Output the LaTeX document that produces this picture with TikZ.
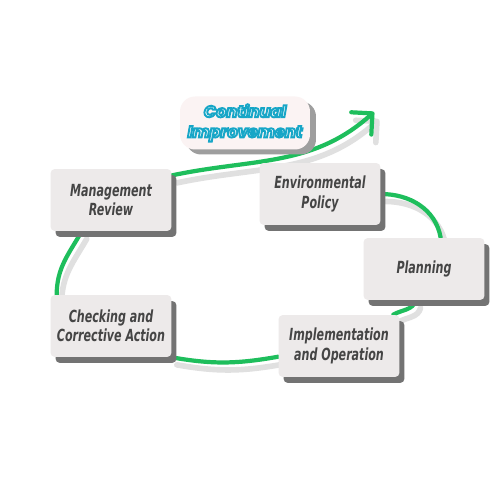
\documentclass[tikz,border=0pt]{standalone}
\usepackage{fontspec}
\usetikzlibrary{arrows.meta,shadows,backgrounds}
\newfontfamily\stepfont{DejaVu Sans Condensed Bold Oblique}[FakeStretch=0.74]
\newfontfamily\tagfont{Poppins}
\definecolor{cigreen}{HTML}{1EBE5C}
\definecolor{cicyan}{HTML}{17A5C6}
\definecolor{boxfill}{HTML}{EDEAEA}
\definecolor{boxtext}{HTML}{454545}
\definecolor{tagfill}{HTML}{FBF3F3}
% outlined lettering: white fill, cyan stroke
\newcommand{\outlined}[1]{{\color{white}\special{pdf:literal direct 2 Tr 1.1 w 0.09 0.65 0.78 RG}#1\special{pdf:literal direct 0 Tr}}}
\begin{document}
\begin{tikzpicture}[x=0.02cm,y=0.02cm,
  stepbox/.style={rectangle,rounded corners=2.5pt,fill=boxfill,minimum width=2.42cm,minimum height=1.24cm,align=center,inner sep=2pt,
    font=\stepfont\fontsize{9.5}{11}\selectfont,text=boxtext,
    drop shadow={shadow xshift=0.1cm,shadow yshift=-0.12cm,fill=black!55,opacity=1}},
  tagbox/.style={rectangle,rounded corners=0.3cm,fill=tagfill,minimum width=2.6cm,minimum height=1.06cm,align=center,inner sep=2pt,
    font=\tagfont\bfseries\itshape\fontsize{9.2}{11.5}\selectfont,
    drop shadow={shadow xshift=0.12cm,shadow yshift=-0.1cm,fill=black!38,opacity=1}},
  loopline/.style={cigreen,line width=2.4pt,line cap=round},
  loopshade/.style={black!12,line width=3.2pt,line cap=round},
  looptip/.style={-{Straight Barb[length=3mm,width=6mm,round]}}]
  \useasboundingbox (0,0) rectangle (500,500);
  % steps of the cycle
  \node[stepbox] (ep) at (320,306) {Environmental\\Policy};
  \node[stepbox] (pl) at (424,231) {Planning};
  \node[stepbox] (io) at (339,154) {Implementation\\and Operation};
  \node[stepbox] (ca) at (111,174) {Checking and\\Corrective Action};
  \node[stepbox] (mr) at (111,300) {Management\\Review};
  \node[tagbox] (ci) at (245,377) {\outlined{Continual}\\\outlined{Improvement}};
  \coordinate (tip) at (374,388);
  % the loop, behind the boxes
  \begin{scope}[on background layer]
    \fill[white] (0,0) rectangle (500,500);
    \draw[loopshade,looptip,transform canvas={shift={(0.1cm,-0.15cm)}}] (ep) to[out=0,in=100] (pl.62)
      (pl) to[out=-105,in=30] (io) to[out=190,in=-10] (ca.south east)
      (ca.150) to[out=90,in=-120] (mr.-133) (mr.22) to[out=12,in=222] (tip);
    \draw[loopline,looptip] (ep) to[out=0,in=100] (pl.62)
      (pl) to[out=-105,in=30] (io) to[out=190,in=-10] (ca.south east)
      (ca.150) to[out=90,in=-120] (mr.-133) (mr.22) to[out=12,in=222] (tip);
  \end{scope}
\end{tikzpicture}
\end{document}
